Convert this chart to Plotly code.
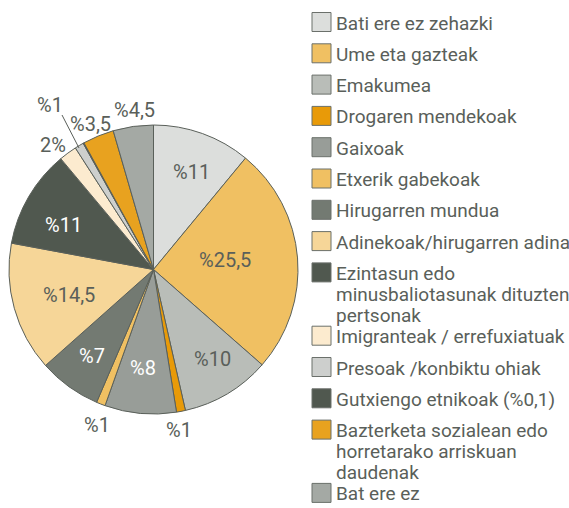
import plotly.graph_objects as go

W, H = 569, 508

labels = [
    "Bati ere ez zehazki",
    "Ume eta gazteak",
    "Emakumea",
    "Drogaren mendekoak",
    "Gaixoak",
    "Etxerik gabekoak",
    "Hirugarren mundua",
    "Adinekoak/hirugarren adina",
    "Ezintasun edo<br>minusbaliotasunak dituzten<br>pertsonak",
    "Imigranteak / errefuxiatuak",
    "Presoak /konbiktu ohiak",
    "Gutxiengo etnikoak (%0,1)",
    "Bazterketa sozialean edo<br>horretarako arriskuan<br>daudenak",
    "Bat ere ez",
]
values = [11, 25.5, 10, 1, 8, 1, 7, 14.5, 11, 2, 1, 0.1, 3.5, 4.5]
pct_text = ["%11", "%25,5", "%10", "%1", "%8", "%1", "%7", "%14,5", "%11",
            "2%", "%1", "", "%3,5", "%4,5"]
colors = ["#dcdedc", "#f0c062", "#b9bdb8", "#e89a08", "#989d98", "#f0c062",
          "#737a72", "#f6d698", "#50584f", "#fcebcf", "#cdcfcd", "#50584f",
          "#e8a21f", "#a4a9a4"]

TXT = "#5a5f5a"
FONT = "Roboto"


def px(x, y):
    return x / W, 1 - y / H


fig = go.Figure(go.Pie(
    labels=[l.replace("<br>", " ") for l in labels],
    values=values,
    text=pct_text,
    textinfo="none",
    marker=dict(colors=colors, line=dict(color="#5a605a", width=1)),
    sort=False,
    direction="clockwise",
    rotation=0,
    domain=dict(x=[9 / W, 298 / W], y=[(H - 414) / H, (H - 125) / H]),
    showlegend=False,
    hoverinfo="label+text",
))

annotations = []
shapes = []

# where each slice label sits (pixels) and its colour
label_pos = {0: (191, 172, TXT), 1: (225, 260, TXT), 2: (212, 359, TXT),
             3: (179, 430, TXT), 4: (143, 368, "white"), 5: (97, 425, TXT),
             6: (92, 356, "white"), 7: (69, 295, TXT), 8: (63, 225, "white"),
             9: (53, 145, TXT), 10: (50, 105, TXT), 12: (90, 124, TXT),
             13: (134, 110, TXT)}
for i, (x, y, c) in label_pos.items():
    ax, ay = px(x, y)
    annotations.append(dict(x=ax, y=ay, xref="paper", yref="paper",
                            xanchor="center", yanchor="middle",
                            text=pct_text[i], showarrow=False,
                            font=dict(family=FONT, size=20, color=c)))
# leader line for Presoak
x0, y0 = px(62, 115)
x1, y1 = px(79, 148)
shapes.append(dict(type="line", xref="paper", yref="paper", x0=x0, y0=y0,
                   x1=x1, y1=y1, line=dict(color=TXT, width=1)))

# legend drawn by hand
y = 22
for lab, col in zip(labels, colors):
    lines = lab.split("<br>")
    sx0, sy0 = px(312, y - 9.5)
    sx1, sy1 = px(331, y + 9.5)
    shapes.append(dict(type="rect", xref="paper", yref="paper",
                       x0=sx0, x1=sx1, y0=sy1, y1=sy0, fillcolor=col,
                       line=dict(color="#6b706b", width=1)))
    for k, ln in enumerate(lines):
        tx, ty = px(334, y + 1 + k * 21)
        annotations.append(dict(x=tx, y=ty, xref="paper", yref="paper",
                                text=ln, showarrow=False, xanchor="left",
                                yanchor="middle",
                                font=dict(family=FONT, size=19, color=TXT)))
    y += 31.3 + (len(lines) - 1) * 21 - (10 if len(lines) > 1 else 0)

fig.update_layout(
    width=W, height=H,
    margin=dict(l=0, r=0, t=0, b=0),
    paper_bgcolor="white",
    plot_bgcolor="white",
    annotations=annotations,
    shapes=shapes,
)

fig.write_html("out.html",
               config={"displayModeBar": False},
               post_script="document.body.style.margin='0';"
                           "document.body.style.overflow='hidden';")
